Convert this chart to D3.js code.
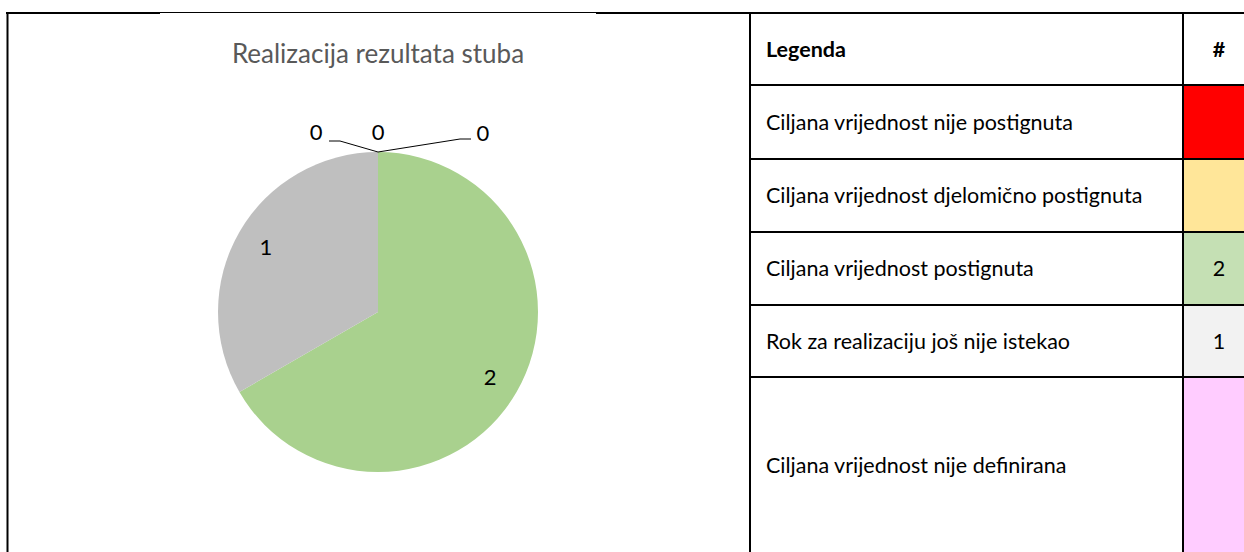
<!DOCTYPE html>
<html>
<head>
<meta charset="utf-8">
<script src="https://cdn.jsdelivr.net/npm/d3@7"></script>
<style>
  html, body { margin: 0; padding: 0; background: #fff; }
  svg { display: block; font-family: Lato, "Open Sans", sans-serif; }
</style>
</head>
<body>
<svg id="chart"></svg>
<script>
// chart data
const title = "Realizacija rezultata stuba";
const categories = [
  "Ciljana vrijednost nije postignuta",
  "Ciljana vrijednost djelomično postignuta",
  "Ciljana vrijednost postignuta",
  "Rok za realizaciju još nije istekao",
  "Ciljana vrijednost nije definirana"
];
const values = [0, 0, 2, 1, 0];
const pieColors = ["#ff0000", "#ffe699", "#a9d18e", "#bfbfbf", "#ffccff"];
const tableColors = ["#ff0000", "#ffe699", "#c5e0b4", "#f2f2f2", "#ffccff"];
const headers = ["Legenda", "#"];

const width = 1244;
const height = 552;

const svg = d3.select("#chart").attr("width", width).attr("height", height);

// pie geometry
const cx = 378, cy = 312, radius = 160;

const drawFrame = () => {
  // left cell border
  svg.append("line").attr("x1", 7.5).attr("x2", 7.5).attr("y1", 12).attr("y2", height)
    .attr("stroke", "#000").attr("stroke-width", 2);
  // top line, thicker at both ends
  svg.append("line").attr("x1", 6).attr("x2", 160).attr("y1", 13).attr("y2", 13)
    .attr("stroke", "#000").attr("stroke-width", 2);
  svg.append("line").attr("x1", 160).attr("x2", 596).attr("y1", 12.5).attr("y2", 12.5)
    .attr("stroke", "#000").attr("stroke-width", 1);
  svg.append("line").attr("x1", 596).attr("x2", width).attr("y1", 13).attr("y2", 13)
    .attr("stroke", "#000").attr("stroke-width", 2);
};

const drawPie = () => {
  svg.append("text")
    .attr("x", cx).attr("y", 54)
    .attr("text-anchor", "middle")
    .attr("dy", "0.35em")
    .attr("fill", "#595959")
    .style("font-size", "26px")
    .text(title);

  const pie = d3.pie().sort(null).value((d) => d.value);
  const arcs = pie(values.map((v, i) => ({ value: v, i: i })));
  const arc = d3.arc().innerRadius(0).outerRadius(radius);
  const labelArc = d3.arc().innerRadius(radius * 0.81).outerRadius(radius * 0.81);

  const g = svg.append("g").attr("transform", "translate(" + cx + "," + cy + ")");

  g.selectAll("path")
    .data(arcs.filter((d) => d.value > 0))
    .enter()
    .append("path")
    .attr("d", arc)
    .attr("fill", (d) => pieColors[d.data.i]);

  // labels for non-zero slices
  g.selectAll("text.inner")
    .data(arcs.filter((d) => d.value > 0))
    .enter()
    .append("text")
    .attr("class", "inner")
    .attr("transform", (d) => "translate(" + labelArc.centroid(d) + ")")
    .attr("text-anchor", "middle")
    .attr("dy", "0.35em")
    .style("font-size", "22px")
    .text((d) => d.value);

  // zero slices sit at the top, their labels are pushed out with leader lines
  const zeros = arcs.filter((d) => d.value === 0);
  const tip = [0, -radius];
  const zeroOffsets = [
    { lx: -62, ly: -20, line: [[-38, -11], [-49, -11]] },
    { lx: 0, ly: -20, line: null },
    { lx: 105, ly: -19, line: [[82, -13], [93, -13]] }
  ];
  zeros.forEach((d, k) => {
    const o = zeroOffsets[k];
    if (o.line) {
      const pts = [tip].concat(o.line.map((p) => [tip[0] + p[0], tip[1] + p[1]]));
      g.append("path")
        .attr("d", d3.line()(pts))
        .attr("fill", "none")
        .attr("stroke", "#000")
        .attr("stroke-width", 1);
    }
    g.append("text")
      .attr("x", tip[0] + o.lx)
      .attr("y", tip[1] + o.ly)
      .attr("text-anchor", "middle")
      .attr("dy", "0.35em")
      .style("font-size", "22px")
      .text(d.value);
  });
};

const drawTable = () => {
  const x0 = 750, xSplit = 1183, x1 = width + 2;
  const rowEdges = [13, 85, 159, 232, 305, 377, height + 2];
  const t = svg.append("g");

  // value cells colour
  t.selectAll("rect.cell")
    .data(categories)
    .enter()
    .append("rect")
    .attr("class", "cell")
    .attr("x", xSplit)
    .attr("y", (d, i) => rowEdges[i + 1])
    .attr("width", x1 - xSplit)
    .attr("height", (d, i) => rowEdges[i + 2] - rowEdges[i + 1])
    .attr("fill", (d, i) => tableColors[i]);

  // header
  t.append("text").attr("x", 766).attr("y", (rowEdges[0] + rowEdges[1]) / 2)
    .attr("dy", "0.35em").style("font-size", "21.5px").style("font-weight", "bold")
    .text(headers[0]);
  t.append("text").attr("x", 1219).attr("y", (rowEdges[0] + rowEdges[1]) / 2)
    .attr("dy", "0.35em").attr("text-anchor", "middle")
    .style("font-size", "21.5px").style("font-weight", "bold")
    .text(headers[1]);

  t.selectAll("text.cat")
    .data(categories)
    .enter()
    .append("text")
    .attr("class", "cat")
    .attr("x", 766)
    .attr("y", (d, i) => (rowEdges[i + 1] + rowEdges[i + 2]) / 2)
    .attr("dy", "0.35em")
    .style("font-size", "21.5px")
    .text((d) => d);

  t.selectAll("text.val")
    .data(values)
    .enter()
    .append("text")
    .attr("class", "val")
    .attr("x", 1219)
    .attr("y", (d, i) => (rowEdges[i + 1] + rowEdges[i + 2]) / 2)
    .attr("dy", "0.35em")
    .attr("text-anchor", "middle")
    .style("font-size", "21.5px")
    .text((d) => (d > 0 ? d : ""));

  // grid lines
  rowEdges.slice(1, -1).forEach((y) => {
    t.append("line").attr("x1", x0).attr("x2", x1).attr("y1", y).attr("y2", y)
      .attr("stroke", "#000").attr("stroke-width", 2);
  });
  [x0, xSplit].forEach((x) => {
    t.append("line").attr("x1", x).attr("x2", x).attr("y1", rowEdges[0] - 1).attr("y2", height)
      .attr("stroke", "#000").attr("stroke-width", 2);
  });
};

drawFrame();
drawPie();
drawTable();
</script>
</body>
</html>
